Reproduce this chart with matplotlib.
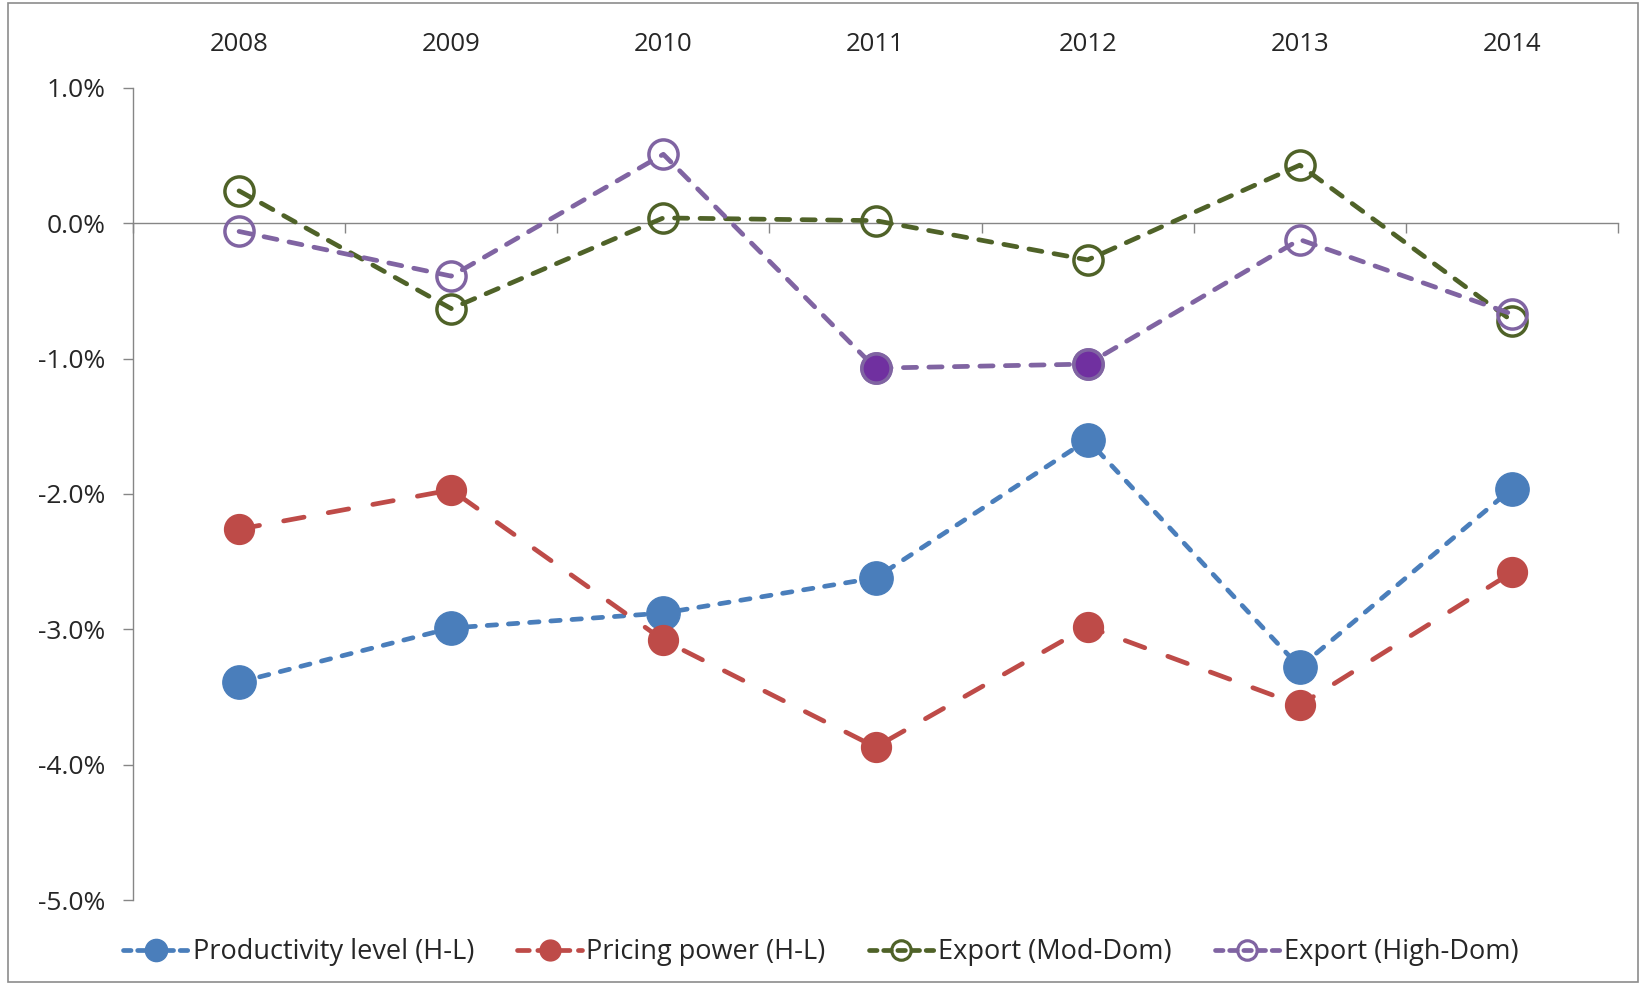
import numpy as np
import matplotlib
matplotlib.use("Agg")
import matplotlib.pyplot as plt
from matplotlib.lines import Line2D
from matplotlib.patches import Rectangle

plt.rcParams['font.family'] = ['Open Sans', 'DejaVu Sans']

years = ['2008', '2009', '2010', '2011', '2012', '2013', '2014']
productivity = [-3.39, -2.99, -2.88, -2.62, -1.60, -3.28, -1.96]
pricing = [-2.26, -1.97, -3.08, -3.87, -2.98, -3.56, -2.58]
export_mod = [0.24, -0.63, 0.04, 0.02, -0.27, 0.43, -0.72]
export_high = [-0.06, -0.39, 0.51, -1.07, -1.04, -0.12, -0.67]
export_high_filled = [False, False, False, True, True, False, False]

y_ticks = [1, 0, -1, -2, -3, -4, -5]
y_labels = ['1.0%', '0.0%', '-1.0%', '-2.0%', '-3.0%', '-4.0%', '-5.0%']
legend_labels = ['Productivity level (H-L)', 'Pricing power (H-L)',
                 'Export (Mod-Dom)', 'Export (High-Dom)']

c_blue = '#4A7EBB'
c_red = '#BE4B48'
c_green = '#4F6228'
c_purple = '#8064A2'
c_purple_fill = '#7030A0'
axis_gray = '#868686'
text_color = '#262626'

fig = plt.figure(figsize=(16.42, 9.85), dpi=100)
ax = fig.add_axes([133 / 1642, 1 - 900 / 985, (1618 - 133) / 1642, (900 - 88) / 985])

x = np.arange(len(years))
lw = 3.4

ax.plot(x, productivity, color=c_blue, lw=lw, dashes=(2.0, 2.5),
        dash_capstyle='round', marker='o', markersize=24,
        markerfacecolor=c_blue, markeredgecolor=c_blue, zorder=3)
ax.plot(x, pricing, color=c_red, lw=lw, dashes=(4.4, 5.2),
        dash_capstyle='round', marker='o', markersize=21.5,
        markerfacecolor=c_red, markeredgecolor=c_red, zorder=3)
ax.plot(x, export_mod, color=c_green, lw=lw, dashes=(2.8, 2.6),
        dash_capstyle='round', marker='o', markersize=21,
        markerfacecolor='none', markeredgecolor=c_green,
        markeredgewidth=2.5, zorder=3)
ax.plot(x, export_high, color=c_purple, lw=lw, dashes=(2.8, 2.6),
        dash_capstyle='round', marker='o', markersize=21,
        markerfacecolor='none', markeredgecolor=c_purple,
        markeredgewidth=2.5, zorder=4)
xf = [xi for xi, f in zip(x, export_high_filled) if f]
yf = [yi for yi, f in zip(export_high, export_high_filled) if f]
ax.plot(xf, yf, linestyle='none', marker='o', markersize=21,
        markerfacecolor=c_purple_fill, markeredgecolor=c_purple,
        markeredgewidth=2.5, zorder=5)

ax.set_xlim(-0.5, len(years) - 0.5)
ax.set_ylim(-5, 1)

# axes styling
for s in ['top', 'right']:
    ax.spines[s].set_visible(False)
ax.spines['left'].set_color(axis_gray)
ax.spines['left'].set_linewidth(1.0)
ax.spines['bottom'].set_position(('data', 0))
ax.spines['bottom'].set_color(axis_gray)
ax.spines['bottom'].set_linewidth(1.0)

ax.set_yticks(y_ticks)
ax.set_yticklabels(y_labels)
ax.tick_params(axis='y', direction='out', length=7, width=1.0,
               color=axis_gray, pad=13, labelsize=19, labelcolor=text_color)

ax.set_xticks(x)
ax.set_xticklabels(years)
ax.set_xticks(np.arange(-0.5, len(years), 1.0), minor=True)
ax.tick_params(axis='x', which='major', bottom=False, top=False,
               labelbottom=False, labeltop=True, pad=19, labelsize=18.5,
               labelcolor=text_color)
ax.tick_params(axis='x', which='minor', bottom=True, top=False,
               direction='out', length=7, width=1.0, color=axis_gray)

# legend
handles = [
    Line2D([], [], color=c_blue, lw=lw, dashes=(1.6, 1.4), dash_capstyle='round',
           marker='o', markersize=16, markerfacecolor=c_blue, markeredgecolor=c_blue),
    Line2D([], [], color=c_red, lw=lw, dashes=(2.5, 1.8), dash_capstyle='round',
           marker='o', markersize=15, markerfacecolor=c_red, markeredgecolor=c_red),
    Line2D([], [], color=c_green, lw=lw, dashes=(1.6, 1.4), dash_capstyle='round',
           marker='o', markersize=14, markerfacecolor='none',
           markeredgecolor=c_green, markeredgewidth=2.3),
    Line2D([], [], color=c_purple, lw=lw, dashes=(1.6, 1.4), dash_capstyle='round',
           marker='o', markersize=14, markerfacecolor='none',
           markeredgecolor=c_purple, markeredgewidth=2.3),
]
fig.legend(handles, legend_labels, loc='center', ncol=4,
           bbox_to_anchor=(0.5, 1 - 952 / 985), frameon=False,
           fontsize=19.5, handlelength=2.4, handletextpad=0.15,
           columnspacing=1.6, labelcolor=text_color)

# outer chart border
fig.patches.append(Rectangle((8 / 1642, 3 / 985), (1638 - 8) / 1642, (982 - 3) / 985,
                             transform=fig.transFigure, fill=False,
                             edgecolor='#8c8c8c', lw=1.2))

fig.savefig('out.png', dpi=100, facecolor='white')
